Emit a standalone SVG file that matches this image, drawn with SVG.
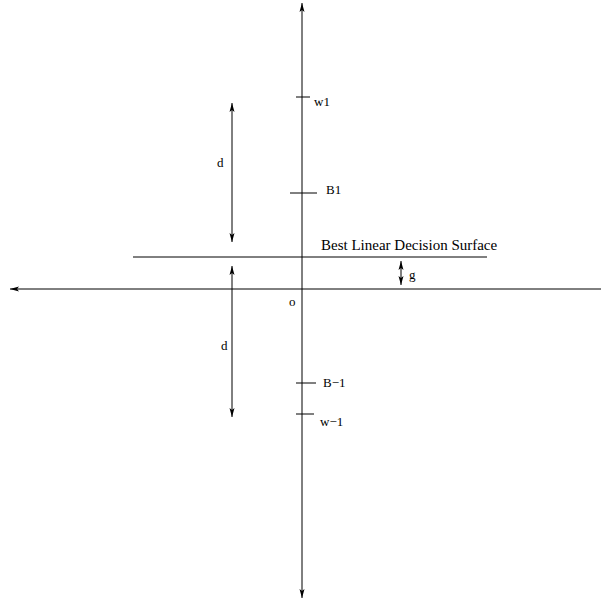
<svg xmlns="http://www.w3.org/2000/svg" width="601" height="603" viewBox="0 0 601 603">
<style>
.l{stroke:#000;stroke-width:1;fill:none}
.t{font-family:"Liberation Serif",serif;font-size:13px;fill:#000}
</style>
<defs>
<marker id="a" markerWidth="10" markerHeight="6" refX="9" refY="3" orient="auto-start-reverse" markerUnits="userSpaceOnUse">
<path d="M0,0.5 L9,3 L0,5.5 L2,3 Z" fill="#000"/>
</marker>
</defs>
<g id="connectors">
<line class="l" x1="302" y1="598" x2="302" y2="3" marker-start="url(#a)" marker-end="url(#a)"/>
<line class="l" x1="601" y1="289" x2="10" y2="289" marker-end="url(#a)"/>
<line class="l" x1="133" y1="257" x2="487" y2="257"/>
<line class="l" x1="232" y1="242" x2="232" y2="103" marker-start="url(#a)" marker-end="url(#a)"/>
<line class="l" x1="232" y1="417" x2="232" y2="266" marker-start="url(#a)" marker-end="url(#a)"/>
<line class="l" x1="401" y1="285" x2="401" y2="261" marker-start="url(#a)" marker-end="url(#a)"/>
<line class="l" x1="296" y1="97" x2="310" y2="97"/>
<line class="l" x1="290" y1="193" x2="317" y2="193"/>
<line class="l" x1="296" y1="383" x2="316" y2="383"/>
<line class="l" x1="296" y1="414" x2="314" y2="414"/>
</g>
<g id="labels">
<text class="t" x="314" y="106">w1</text>
<text class="t" x="326" y="194">B1</text>
<text class="t" x="217" y="167">d</text>
<text class="t" x="221" y="350">d</text>
<text class="t" x="321" y="250" style="font-size:15px">Best Linear Decision Surface</text>
<text class="t" x="409" y="279">g</text>
<text class="t" x="289" y="306">o</text>
<text class="t" x="323" y="387">B−1</text>
<text class="t" x="320" y="426">w−1</text>
</g>
</svg>
